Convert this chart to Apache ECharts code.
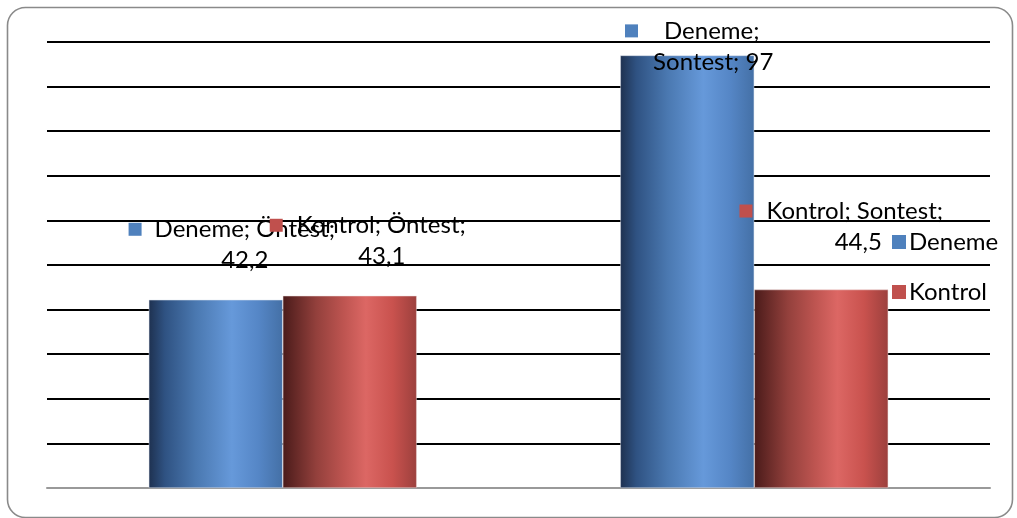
<!DOCTYPE html>
<html>
<head>
<meta charset="utf-8">
<script src="https://cdn.jsdelivr.net/npm/echarts@6/dist/echarts.min.js"></script>
<style>
  html, body { margin: 0; padding: 0; background: #ffffff; }
  #chart { width: 1017px; height: 518px; }
</style>
</head>
<body>
<div id="chart"></div>
<script>
// Test groups and their scores
const categories = ['Öntest', 'Sontest'];
const seriesNames = ['Deneme', 'Kontrol'];
const denemeValues = [42.2, 97];
const kontrolValues = [43.1, 44.5];

// Axis range
const yMin = 0;
const yMax = 100;
const yStep = 10;

// Label placement per series and category: [dx, dy, second-line shift, icon gap, wrap after category]
const labelLayout = {
  Deneme: [[16, -24, 13, 13, true], [5, 22, 21, 26, false]],
  Kontrol: [[18, -24, 14, 14, true], [20, -32, 17, 14, true]]
};

const iconColors = { Deneme: '#4f81bd', Kontrol: '#c0504d' };
const FONT = 'Lato';
const FONT_SIZE = 24;

function fmt(v) {
  return String(v).replace('.', ',');
}

function barGradient(stops) {
  return new echarts.graphic.LinearGradient(0, 0, 1, 0, stops.map(function (s) {
    return { offset: s[0], color: s[1] };
  }));
}

const blueFill = barGradient([
  [0, '#1e3150'], [0.12, '#2f5282'], [0.35, '#4a78b0'],
  [0.62, '#6699da'], [0.82, '#5586c6'], [1, '#4470a6']
]);
const redFill = barGradient([
  [0, '#4a1b1a'], [0.25, '#93403c'], [0.45, '#bd5450'],
  [0.62, '#dc6764'], [0.82, '#c9524e'], [1, '#9c403d']
]);

function makeLabel(name) {
  return {
    show: true,
    position: 'top',
    distance: 0,
    color: '#000',
    fontFamily: FONT,
    fontSize: FONT_SIZE,
    lineHeight: 31,
    formatter: function (p) {
      const lay = labelLayout[name][p.dataIndex];
      const val = fmt(p.value);
      const gap = '{g' + p.dataIndex + '|}';
      let first, second;
      if (lay[4]) {
        first = name + '; ' + p.name + ';';
        second = val;
      } else {
        first = name + ';';
        second = p.name + '; ' + val;
      }
      return '{sq|}' + gap + '{t|' + first + '}\n{s' + p.dataIndex + '|' + second + '}';
    },
    rich: (function () {
      const r = {
        sq: { width: 13, height: 13, backgroundColor: iconColors[name] },
        t: { fontFamily: FONT, fontSize: FONT_SIZE, lineHeight: 31, color: '#000' }
      };
      labelLayout[name].forEach(function (lay, i) {
        r['g' + i] = { width: lay[3] };
        r['s' + i] = {
          fontFamily: FONT, fontSize: FONT_SIZE, lineHeight: 31, color: '#000',
          padding: [0, 0, 0, lay[2] * 2]
        };
      });
      return r;
    })()
  };
}

function seriesData(name, values) {
  return values.map(function (v, i) {
    const lay = labelLayout[name][i];
    return { value: v, label: { offset: [lay[0], lay[1]] } };
  });
}

const chart = echarts.init(document.getElementById('chart'), null, { renderer: 'canvas' });

chart.setOption({
  backgroundColor: '#ffffff',
  animation: false,
  graphic: [{
    type: 'rect',
    z: 100,
    silent: true,
    shape: { x: 7.5, y: 7.5, width: 1005, height: 510, r: 18 },
    style: { fill: 'none', stroke: '#8a8a8a', lineWidth: 1.6 }
  }],
  grid: { left: 47, right: 27, top: 42, bottom: 30, containLabel: false },
  legend: {
    orient: 'vertical',
    left: 887,
    top: 223,
    itemWidth: 14,
    itemHeight: 14,
    itemGap: 22,
    icon: 'rect',
    data: seriesNames.map(function (n) {
      return { name: n, itemStyle: { color: iconColors[n], borderWidth: 0 } };
    }),
    textStyle: { fontFamily: FONT, fontSize: FONT_SIZE, lineHeight: 28, color: '#000', padding: [0, 0, 0, -2] }
  },
  xAxis: {
    type: 'category',
    data: categories,
    axisLine: { show: true, lineStyle: { color: '#999999', width: 2 } },
    axisTick: { show: false },
    axisLabel: { show: false }
  },
  yAxis: {
    type: 'value',
    min: yMin,
    max: yMax,
    interval: yStep,
    axisLine: { show: false },
    axisTick: { show: false },
    axisLabel: { show: false },
    splitLine: { show: true, lineStyle: { color: '#000000', width: 2 } }
  },
  series: [
    {
      name: seriesNames[0],
      type: 'bar',
      barWidth: 134,
      barGap: '0%',
      data: seriesData('Deneme', denemeValues),
      itemStyle: { color: blueFill, borderColor: 'rgba(220,225,235,0.8)', borderWidth: 0.6 },
      label: makeLabel('Deneme')
    },
    {
      name: seriesNames[1],
      type: 'bar',
      barWidth: 134,
      barGap: '0%',
      data: seriesData('Kontrol', kontrolValues),
      itemStyle: { color: redFill, borderColor: 'rgba(235,220,220,0.8)', borderWidth: 0.6 },
      label: makeLabel('Kontrol')
    }
  ]
});
</script>
</body>
</html>
